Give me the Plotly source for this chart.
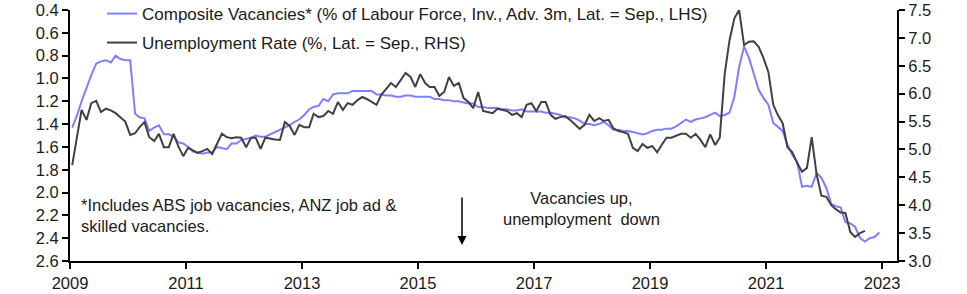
import pandas as pd
import plotly.graph_objects as go

# Composite vacancies (% of labour force, inverted, advanced 3m), monthly Jan-2009 .. Dec-2022
vacancies = [
    1.43, 1.32, 1.20, 1.08, 0.97, 0.87, 0.85, 0.84, 0.86, 0.80, 0.83, 0.84,
    0.84, 1.31, 1.34, 1.35, 1.46, 1.43, 1.41, 1.49, 1.49, 1.51, 1.56, 1.57,
    1.60, 1.64, 1.65, 1.66, 1.65, 1.65, 1.60, 1.61, 1.62, 1.57, 1.57, 1.54,
    1.53, 1.52, 1.50, 1.51, 1.51, 1.49, 1.47, 1.45, 1.43, 1.41, 1.38, 1.36,
    1.32, 1.27, 1.25, 1.24, 1.18, 1.20, 1.14, 1.13, 1.13, 1.13, 1.11, 1.11,
    1.11, 1.11, 1.11, 1.14, 1.14, 1.15, 1.15, 1.16, 1.16, 1.15, 1.15, 1.16,
    1.16, 1.16, 1.16, 1.18, 1.18, 1.19, 1.19, 1.20, 1.20, 1.21, 1.22, 1.22,
    1.25, 1.25, 1.26, 1.26, 1.26, 1.27, 1.27, 1.28, 1.28, 1.27, 1.29, 1.29,
    1.29, 1.29, 1.30, 1.30, 1.31, 1.32, 1.34, 1.34, 1.35, 1.37, 1.40, 1.40,
    1.41, 1.40, 1.38, 1.41, 1.45, 1.45, 1.46, 1.46, 1.47, 1.48, 1.49, 1.48,
    1.46, 1.45, 1.45, 1.44, 1.44, 1.42, 1.39, 1.36, 1.38, 1.36, 1.35, 1.34,
    1.32, 1.30, 1.33, 1.32, 1.30, 1.16, 0.90, 0.72, 0.82, 0.95, 1.10, 1.17,
    1.23, 1.39, 1.42, 1.46, 1.58, 1.67, 1.73, 1.95, 1.94, 1.95, 1.83, 1.87,
    1.96, 2.10, 2.12, 2.13, 2.26, 2.27, 2.30, 2.40, 2.43, 2.40, 2.39, 2.35,
]

# Unemployment rate (%), monthly Jan-2009 .. Sep-2022
unemployment = [
    4.72, 5.25, 5.71, 5.53, 5.83, 5.87, 5.67, 5.73, 5.70, 5.65, 5.58, 5.50,
    5.26, 5.29, 5.40, 5.49, 5.22, 5.15, 5.28, 5.04, 5.04, 5.28, 5.05, 4.88,
    5.03, 4.98, 4.94, 4.97, 5.01, 4.92, 5.10, 5.28, 5.22, 5.20, 5.22, 5.21,
    5.04, 5.21, 5.21, 5.01, 5.21, 5.19, 5.18, 5.17, 5.49, 5.42, 5.26, 5.44,
    5.40, 5.40, 5.64, 5.58, 5.60, 5.69, 5.64, 5.85, 5.71, 5.83, 5.80, 5.88,
    5.94, 5.90, 5.85, 5.80, 5.98, 6.08, 6.19, 6.12, 6.25, 6.37, 6.30, 6.12,
    6.35, 6.19, 6.12, 6.12, 5.96, 6.03, 6.30, 6.14, 6.19, 5.92, 5.85, 5.74,
    6.03, 5.69, 5.67, 5.65, 5.73, 5.71, 5.69, 5.62, 5.65, 5.58, 5.80, 5.83,
    5.69, 5.85, 5.85, 5.62, 5.55, 5.58, 5.60, 5.53, 5.45, 5.37, 5.44, 5.62,
    5.51, 5.56, 5.51, 5.53, 5.38, 5.33, 5.31, 5.28, 5.03, 4.97, 5.10, 5.03,
    5.06, 4.95, 5.08, 5.21, 5.21, 5.24, 5.28, 5.28, 5.21, 5.28, 5.17, 5.04,
    5.27, 5.08, 5.21, 6.35, 6.95, 7.35, 7.50, 6.87, 6.93, 6.94, 6.84, 6.64,
    6.39, 5.80, 5.62, 5.47, 5.04, 4.95, 4.76, 4.60, 4.67, 5.22, 4.55, 4.17,
    4.15, 4.00, 3.93, 3.87, 3.86, 3.52, 3.43, 3.50, 3.54,
]

vac_dates = pd.date_range("2009-01-01", periods=len(vacancies), freq="MS") + pd.Timedelta(days=14)
unemp_dates = pd.date_range("2009-01-01", periods=len(unemployment), freq="MS") + pd.Timedelta(days=14)

year_ticks = [2009, 2011, 2013, 2015, 2017, 2019, 2021, 2023]
left_ticks = [0.4, 0.6, 0.8, 1.0, 1.2, 1.4, 1.6, 1.8, 2.0, 2.2, 2.4, 2.6]
right_ticks = [3.0, 3.5, 4.0, 4.5, 5.0, 5.5, 6.0, 6.5, 7.0, 7.5]

FONT = "Arial, 'Liberation Sans', sans-serif"
BLUE = "#7F7FFA"
DARK = "#404040"
TXT = "#1a1a1a"

fig = go.Figure()
fig.add_trace(go.Scatter(
    x=vac_dates, y=vacancies, mode="lines",
    name="Composite Vacancies* (% of Labour Force, Inv., Adv. 3m, Lat. = Sep., LHS)",
    line=dict(color=BLUE, width=2), yaxis="y", legend="legend",
))
fig.add_trace(go.Scatter(
    x=unemp_dates, y=unemployment, mode="lines",
    name="Unemployment Rate (%, Lat. = Sep., RHS)",
    line=dict(color=DARK, width=2), yaxis="y2", legend="legend2",
))

axis_common = dict(
    showgrid=False, zeroline=False, showline=True, linecolor="black", linewidth=2,
    ticks="outside", ticklen=6, tickwidth=2, tickcolor="black",
    tickfont=dict(family=FONT, size=16.5, color=TXT),
)

fig.update_layout(
    width=967, height=294,
    margin=dict(l=70, r=70, t=10, b=33, autoexpand=False),
    paper_bgcolor="white", plot_bgcolor="white",
    font=dict(family=FONT, size=16, color=TXT),
    xaxis=dict(
        type="date",
        range=["2009-01-01", "2023-04-05"],
        tickvals=[f"{y}-01-01" for y in year_ticks],
        ticktext=[str(y) for y in year_ticks],
        **axis_common,
    ),
    yaxis=dict(
        range=[2.6, 0.4], tickvals=left_ticks,
        ticktext=[f"{v:.1f}" for v in left_ticks],
        **axis_common,
    ),
    yaxis2=dict(
        range=[3.0, 7.5], tickvals=right_ticks,
        ticktext=[f"{v:.1f}" for v in right_ticks],
        overlaying="y", side="right", anchor="x",
        **axis_common,
    ),
    legend=dict(
        x=0.0387, y=0.984, xanchor="left", yanchor="middle",
        bgcolor="rgba(0,0,0,0)", font=dict(family=FONT, size=17, color=TXT),
    ),
    legend2=dict(
        x=0.0387, y=0.8685, xanchor="left", yanchor="middle",
        bgcolor="rgba(0,0,0,0)", font=dict(family=FONT, size=17, color=TXT),
    ),
    showlegend=True,
)

fig.add_annotation(
    xref="paper", yref="paper", x=0.0109, y=(261 - 215.5) / 251, xanchor="left", yanchor="middle",
    text="*Includes ABS job vacancies, ANZ job ad &amp;<br>skilled vacancies.",
    align="left", showarrow=False, font=dict(family=FONT, size=16.5, color=TXT),
)
fig.add_annotation(
    xref="paper", yref="paper", x=(581 - 70) / 827, y=(261 - 208.5) / 251, xanchor="center", yanchor="middle",
    text="Vacancies up,<br>unemployment\u00a0 down",
    align="center", showarrow=False, font=dict(family=FONT, size=16.5, color=TXT),
)
fig.add_annotation(
    xref="paper", yref="paper", x=(462 - 70) / 827, y=(261 - 245) / 251,
    text="", showarrow=True, ax=0, ay=-49,
    arrowhead=2, arrowsize=1.2, arrowwidth=1.5, arrowcolor="black", standoff=0,
)

fig.write_html("out.html")
